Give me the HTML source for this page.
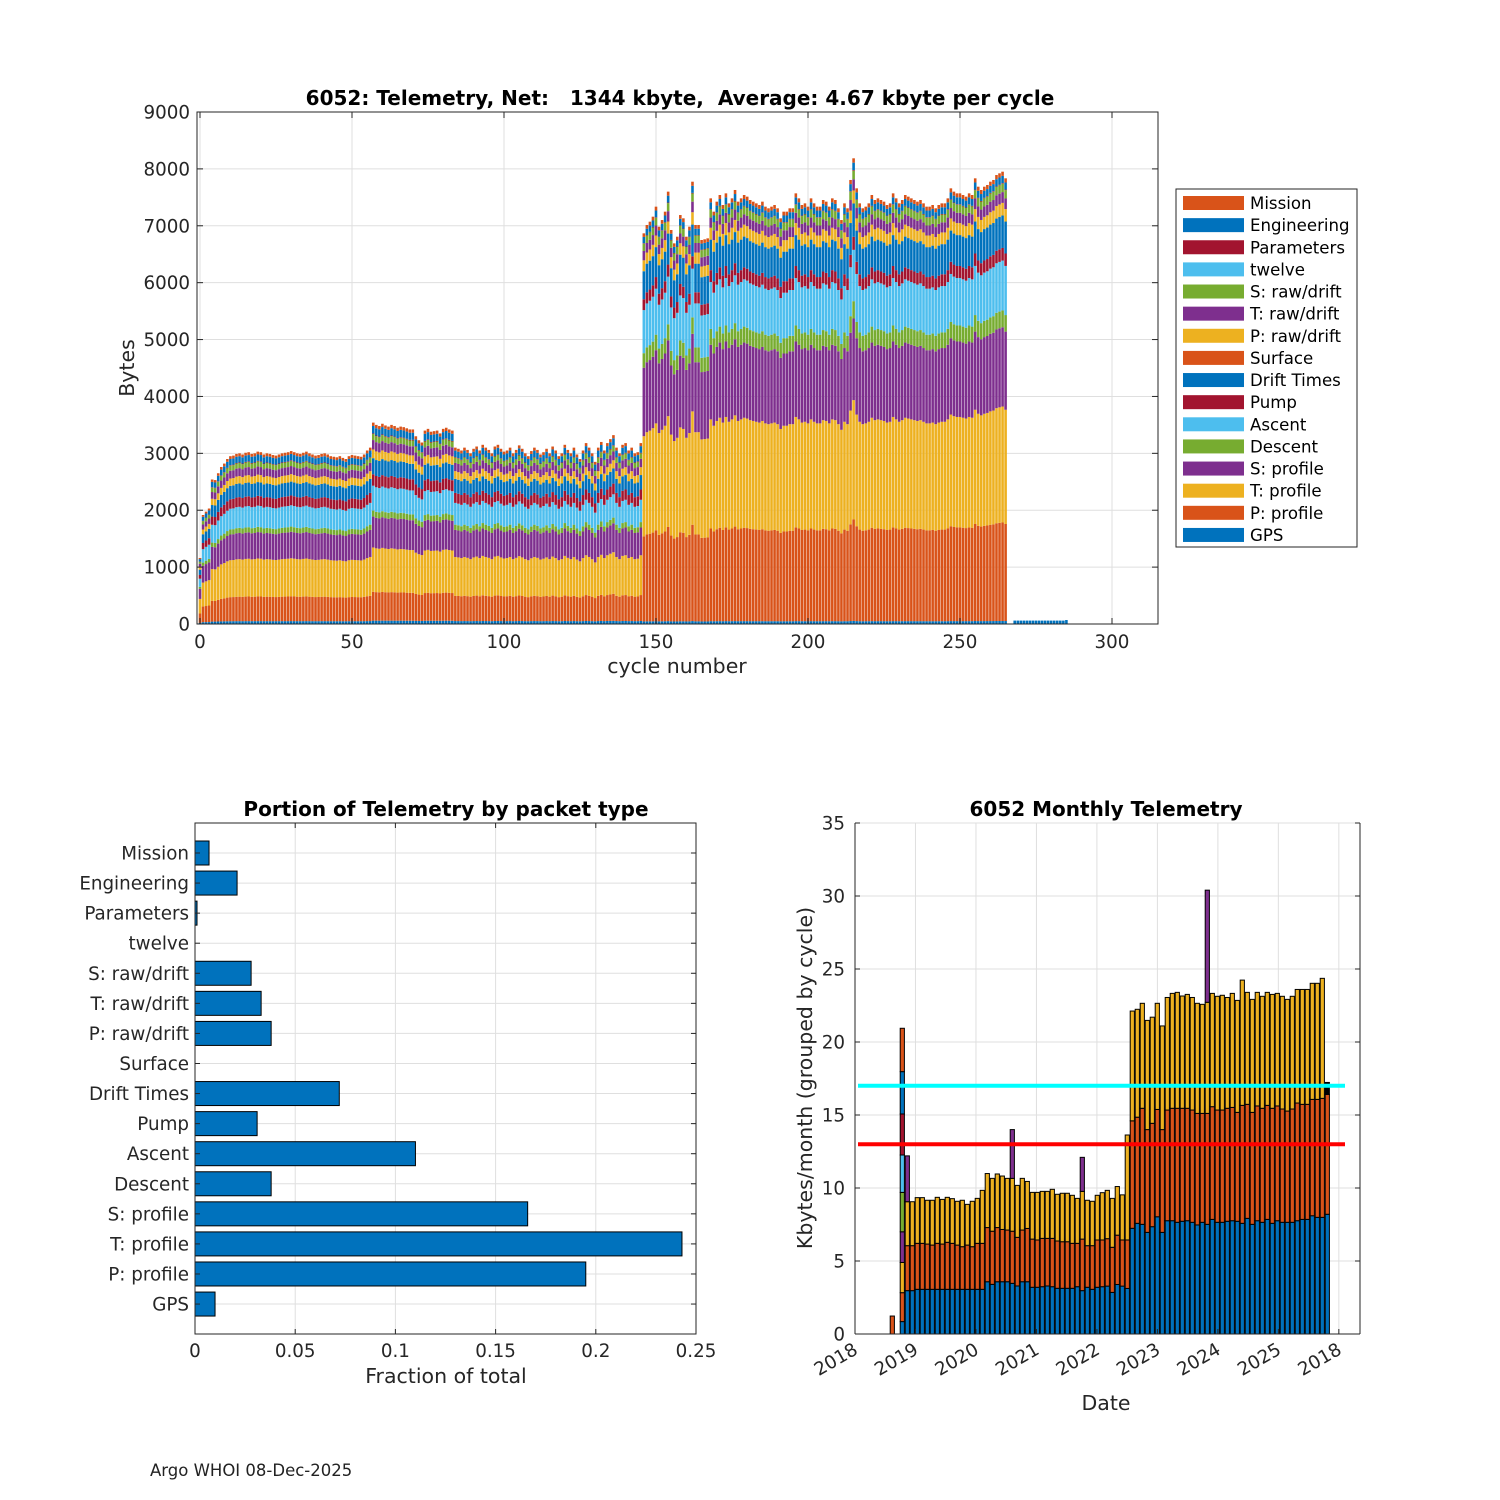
<!DOCTYPE html>
<html><head><meta charset="utf-8">
<style>
html,body{margin:0;padding:0;background:#fff;}
svg{display:block;font-family:"DejaVu Sans","Liberation Sans",sans-serif;}
</style></head>
<body>
<svg id="fig" width="1500" height="1500" viewBox="0 0 1500 1500" xmlns="http://www.w3.org/2000/svg">
<rect width="1500" height="1500" fill="#fff"/>
<g id="top"></g>
<g id="bl"></g>
<g id="br"></g>
<text x="150" y="1476" font-size="16.5" fill="#222">Argo WHOI 08-Dec-2025</text>
</svg>
<script>
// ===== Top chart data =====
const packetNames = ["GPS","P: profile","T: profile","S: profile","Descent","Ascent","Pump","Drift Times","Surface","P: raw/drift","T: raw/drift","S: raw/drift","twelve","Parameters","Engineering","Mission"];
const compEarly = [50,430,660,460,90,370,170,240,0,130,140,90,0,10,110,50];
const compLate = [50,1640,1930,1320,280,830,210,540,0,210,180,140,0,10,120,70];
const totalsEarly = [1160,1916,1975,2030,2540,2530,2650,2760,2820,2900,2950,2960,2990,3000,2980,3010,3020,2990,3000,3030,3020,2980,3000,2990,2970,2960,2980,3000,3010,3020,3040,3020,3000,2990,3010,3030,3000,2980,2960,2970,2990,3000,2980,2950,2940,2930,2950,2920,2900,2950,2970,2960,2950,2940,2980,3050,3100,3540,3500,3480,3520,3490,3470,3500,3480,3450,3470,3460,3440,3420,3420,3300,3230,3190,3400,3430,3380,3390,3400,3350,3430,3450,3420,3400,3100,3080,3050,3100,3060,3000,3080,3120,3050,3150,3100,3060,3000,3120,3150,3080,3030,3050,3100,3000,3060,3140,3080,3000,2950,3040,3100,3060,2980,3020,3080,3000,3120,3050,2950,3000,3150,3060,3000,3100,2980,2900,3050,3180,3100,3000,2850,3100,3200,3050,3180,3250,3320,3100,3000,3150,3180,3050,3100,3000,3020,3180];
const totalsLate = [6867,7014,7072,7160,7336,6984,7101,7248,7600,6926,6691,6808,7189,7131,6808,6984,7775,7014,7014,6750,6762,6779,7482,7248,7424,7541,7365,7570,7394,7482,7629,7424,7482,7541,7512,7453,7424,7394,7365,7424,7336,7307,7336,7365,7307,7131,7248,7248,7307,7307,7570,7482,7365,7394,7336,7482,7394,7336,7336,7453,7424,7336,7482,7453,7307,7101,7394,7307,7805,8186,7658,7394,7307,7336,7394,7541,7453,7482,7453,7424,7365,7394,7570,7482,7394,7453,7541,7512,7482,7453,7424,7453,7394,7336,7336,7365,7307,7365,7394,7394,7482,7658,7600,7570,7570,7541,7512,7570,7541,7834,7687,7629,7687,7717,7775,7805,7892,7922,7951,7834];
const trailCycles = [268,269,270,271,272,273,274,275,276,277,278,279,280,281,282,283,284,285];
const trailVals = [60,60,60,60,60,60,60,60,60,60,60,60,60,60,60,60,60,70];
const yTicksTop = [0,1000,2000,3000,4000,5000,6000,7000,8000,9000];
const xTicksTop = [0,50,100,150,200,250,300];

// ===== Bottom-left data =====
const fracNames = ["Mission","Engineering","Parameters","twelve","S: raw/drift","T: raw/drift","P: raw/drift","Surface","Drift Times","Pump","Ascent","Descent","S: profile","T: profile","P: profile","GPS"];
const fracVals = [0.007,0.021,0.001,0,0.028,0.033,0.038,0,0.072,0.031,0.110,0.038,0.166,0.243,0.195,0.010];
const xTicksFrac = [0,0.05,0.1,0.15,0.2,0.25];
const xTickFracLabels = ["0","0.05","0.1","0.15","0.2","0.25"];

// ===== Bottom-right data =====
const monthIdx = [10,11,12,13,14,15,16,17,18,19,20,21,22,23,24,25,26,27,28,29,30,31,32,33,34,35,36,37,38,39,40,41,42,43,44,45,46,47,48,49,50,51,52,53,54,55,56,57,58,59,60,61,62,63,64,65,66,67,68,69,70,71,72,73,74,75,76,77,78,79,80,81,82,83,84,85,86,87,88,89,90,91,92,93];
const blueTop = [2.97,2.97,3.06,3.06,3.06,3.06,3.06,3.06,3.06,3.06,3.06,3.06,3.06,3.06,3.06,3.06,3.58,3.40,3.58,3.58,3.58,3.47,3.29,3.58,3.58,3.20,3.20,3.24,3.29,3.24,3.13,3.13,3.13,3.13,3.24,2.97,3.20,3.06,3.20,3.24,3.28,2.85,3.39,3.28,3.12,7.24,7.58,7.51,6.96,7.35,8.03,6.96,7.76,7.76,7.65,7.72,7.76,7.65,7.47,7.65,7.51,7.85,7.65,7.65,7.72,7.76,7.72,7.58,7.92,7.51,7.76,7.65,7.85,7.58,7.76,7.65,7.65,7.65,7.76,7.85,7.85,8.10,7.99,7.99];
const orangeTop = [6.05,6.05,6.21,6.21,6.16,6.09,6.21,6.16,6.28,6.21,6.09,5.98,6.09,5.98,6.21,6.21,7.29,7.04,7.29,7.16,7.12,7.04,6.62,7.12,7.23,6.50,6.44,6.55,6.55,6.55,6.37,6.32,6.32,6.21,6.21,6.50,6.05,6.05,6.44,6.44,6.53,5.94,6.77,6.44,6.44,14.6,14.85,15.46,14.0,14.43,15.38,14.0,15.34,15.46,15.46,15.46,15.46,15.34,15.11,15.11,15.11,15.57,15.34,15.34,15.46,15.52,15.18,15.66,15.73,15.18,15.62,15.46,15.66,15.46,15.62,15.41,15.27,15.41,15.82,15.73,15.73,16.07,16.07,16.14];
const yellowTop = [9.06,9.06,9.34,9.34,9.16,9.16,9.36,9.22,9.36,9.27,9.09,9.16,8.88,9.09,9.29,9.84,10.99,10.66,10.96,10.82,10.66,10.66,10.18,10.66,10.45,9.70,9.70,9.77,9.77,9.91,9.57,9.64,9.64,9.50,9.29,9.77,9.16,9.09,9.50,9.68,9.84,9.29,10.1,9.53,13.63,22.12,22.24,22.65,21.48,21.7,22.65,21.1,23.05,23.33,23.4,23.15,23.26,23.05,22.65,22.58,22.72,23.33,23.13,23.2,23.05,23.33,22.85,24.24,23.4,22.92,23.4,23.13,23.4,23.26,23.33,23.13,22.92,23.13,23.6,23.6,23.6,24.02,24.02,24.36];
const purpleMonths = [10,31,45,70];
const purpleTop = [12.2,14.0,12.1,30.4];
const firstMonthSegTops = [0.85,2.83,4.9,7.0,9.7,12.26,15.07,17.97,20.94];
const lastMonthSegTops = [8.2,16.41,17.23];
const earlyMonthOrange = 1.23;
const refLevels = [17,13];
const yTicksMon = [0,5,10,15,20,25,30,35];
const yearTickMonths = [0,12,24,36,48,60,72,84,96];
const yearLabels = ["2018","2019","2020","2021","2022","2023","2024","2025","2018"];

const C = {orange:"#D95319",blue:"#0072BD",red:"#A2142F",lblue:"#4DBEEE",green:"#77AC30",purple:"#7E2F8E",yellow:"#EDB120"};
const compColors = [C.blue,C.orange,C.yellow,C.purple,C.green,C.lblue,C.red,C.blue,C.orange,C.yellow,C.purple,C.green,C.lblue,C.red,C.blue,C.orange];
const NS = "http://www.w3.org/2000/svg";
const FT = 18.3, FL = 20.5, FTI = 20;
function mk(parent, tag, attrs, text){
  const e = document.createElementNS(NS, tag);
  for (const k in attrs) e.setAttribute(k, attrs[k]);
  if (text !== undefined) e.textContent = text;
  parent.appendChild(e); return e;
}

// ===== Top chart =====
(function(){
  const g = document.getElementById('top');
  const L=197, R=1158, T=112, B=624;
  const xs = v => 200 + v*3.04;
  const ys = v => B - v*(B-T)/9000;
  for (const t of xTicksTop){ const l=mk(g,'line',{x1:xs(t),x2:xs(t),y1:T,y2:B,stroke:'#dfdfdf','stroke-width':1});
      }
  for (const t of yTicksTop){ const l=mk(g,'line',{x1:L,x2:R,y1:ys(t),y2:ys(t),stroke:'#dfdfdf','stroke-width':1});
      }
  const sumE = compEarly.reduce((a,b)=>a+b,0), sumL = compLate.reduce((a,b)=>a+b,0);
  const all = totalsEarly.concat(totalsLate);
  all.forEach((tot,c)=>{
    const comp = c < totalsEarly.length ? compEarly : compLate;
    const s = c < totalsEarly.length ? sumE : sumL;
    let base = 0;
    const w = 0.85*3.04;
    comp.forEach((v,i)=>{
      if (!v) return;
      const h = tot*v/s;
      const r = mk(g,'rect',{x:(xs(c)-w/2).toFixed(2),y:ys(base+h).toFixed(2),width:w.toFixed(2),height:(ys(base)-ys(base+h)).toFixed(2),fill:compColors[i]});
      
      
      base += h;
    });
  });
  trailCycles.forEach((c,i)=>{
    const w=0.85*3.04;
    const r=mk(g,'rect',{x:xs(c)-w/2,y:ys(trailVals[i]),width:w,height:ys(0)-ys(trailVals[i]),fill:C.blue});
    
    
  });
  mk(g,'rect',{x:L,y:T,width:R-L,height:B-T,fill:'none',stroke:'#262626','stroke-width':1});
  for (const t of xTicksTop){
    mk(g,'line',{x1:xs(t),x2:xs(t),y1:B,y2:B-6,stroke:'#262626'});
    mk(g,'line',{x1:xs(t),x2:xs(t),y1:T,y2:T+6,stroke:'#262626'});
    const tx=mk(g,'text',{x:xs(t),y:648,'font-size':FT,'text-anchor':'middle',fill:'#262626'},String(t));
     
  }
  for (const t of yTicksTop){
    mk(g,'line',{x1:L,x2:L+6,y1:ys(t),y2:ys(t),stroke:'#262626'});
    mk(g,'line',{x1:R,x2:R-6,y1:ys(t),y2:ys(t),stroke:'#262626'});
    const tx=mk(g,'text',{x:190,y:ys(t)+6.5,'font-size':FT,'text-anchor':'end',fill:'#262626'},String(t));
     
  }
  const ti=mk(g,'text',{x:680,y:105,'font-size':FTI,'font-weight':'bold','text-anchor':'middle',fill:'#000','xml:space':'preserve',style:'white-space:pre'},'6052: Telemetry, Net:   1344 kbyte,  Average: 4.67 kbyte per cycle');
   
  const xl=mk(g,'text',{x:677,y:673,'font-size':FL,'text-anchor':'middle',fill:'#262626'},'cycle number');
   
  const yl=mk(g,'text',{x:0,y:0,'font-size':FL,'text-anchor':'middle',fill:'#262626',transform:'translate(134,368) rotate(-90)'},'Bytes');
   
  const lg=mk(g,'g',{});
   
  mk(lg,'rect',{x:1176,y:189,width:181,height:358,fill:'#fff',stroke:'#262626','stroke-width':1});
  for (let k=0;k<16;k++){
    const i = 15-k;
    const yc = 203 + k*22.13;
    const e=mk(lg,'g',{});
     
    mk(e,'rect',{x:1183,y:yc-7,width:61,height:14,fill:compColors[i]});
    mk(e,'text',{x:1250,y:yc+6,'font-size':16.6,fill:'#000'},packetNames[i]);
  }
})();

// ===== Bottom-left chart =====
(function(){
  const g=document.getElementById('bl');
  const L=195,R=696,T=823,B=1334;
  const xs=v=>L+v*(R-L)/0.25;
  const yc=i=>853+i*30.07;
  for (const t of xTicksFrac){ const l=mk(g,'line',{x1:xs(t),x2:xs(t),y1:T,y2:B,stroke:'#dfdfdf'});
      }
  fracNames.forEach((n,i)=>{ const l=mk(g,'line',{x1:L,x2:R,y1:yc(i),y2:yc(i),stroke:'#dfdfdf'});
      });
  fracVals.forEach((v,i)=>{
    if (v>0){
      const r=mk(g,'rect',{x:L,y:yc(i)-12,width:xs(v)-L,height:24,fill:C.blue,stroke:'#000','stroke-width':1});
      
      
    }
    const tx=mk(g,'text',{x:189,y:yc(i)+6.5,'font-size':FT,'text-anchor':'end',fill:'#262626'},fracNames[i]);
     
    mk(g,'line',{x1:L,x2:L+5,y1:yc(i),y2:yc(i),stroke:'#262626'});
    mk(g,'line',{x1:R,x2:R-5,y1:yc(i),y2:yc(i),stroke:'#262626'});
  });
  mk(g,'rect',{x:L,y:T,width:R-L,height:B-T,fill:'none',stroke:'#262626'});
  xTicksFrac.forEach((t,i)=>{
    mk(g,'line',{x1:xs(t),x2:xs(t),y1:B,y2:B-5,stroke:'#262626'});
    mk(g,'line',{x1:xs(t),x2:xs(t),y1:T,y2:T+5,stroke:'#262626'});
    const tx=mk(g,'text',{x:xs(t),y:1357,'font-size':FT,'text-anchor':'middle',fill:'#262626'},xTickFracLabels[i]);
     
  });
  const ti=mk(g,'text',{x:446,y:816,'font-size':FTI,'font-weight':'bold','text-anchor':'middle',fill:'#000'},'Portion of Telemetry by packet type');
   
  const xl=mk(g,'text',{x:446,y:1383,'font-size':FL,'text-anchor':'middle',fill:'#262626'},'Fraction of total');
   
})();

// ===== Bottom-right chart =====
(function(){
  const g=document.getElementById('br');
  const L=855,R=1360,T=823,B=1334;
  const xt=m=>L+m*5.04;
  const xb=m=>L+(m+0.46)*5.0;
  const ys=v=>B-v*(B-T)/35;
  for (const m of yearTickMonths){ const l=mk(g,'line',{x1:xt(m),x2:xt(m),y1:T,y2:B,stroke:'#dfdfdf'});
      }
  for (const t of yTicksMon){ const l=mk(g,'line',{x1:L,x2:R,y1:ys(t),y2:ys(t),stroke:'#dfdfdf'});
      }
  const w=4.2;
  function seg(m,lo,hi,col,name){
    const r=mk(g,'rect',{x:(xb(m)-w/2).toFixed(2),y:ys(hi).toFixed(2),width:w,height:(ys(lo)-ys(hi)).toFixed(2),fill:col,stroke:'#000','stroke-width':1});
    
    
  }
  seg(7,0,earlyMonthOrange,C.orange,'bar-month-7');
  const firstCols=[C.blue,C.orange,C.yellow,C.purple,C.green,C.lblue,C.red,C.blue,C.orange];
  let prev=0;
  firstMonthSegTops.forEach((t,i)=>{ seg(9,prev,t,firstCols[i],'bar-month-9-seg'); prev=t; });
  monthIdx.forEach((m,i)=>{
    seg(m,0,blueTop[i],C.blue,'bar-month-blue');
    seg(m,blueTop[i],orangeTop[i],C.orange,'bar-month-orange');
    seg(m,orangeTop[i],yellowTop[i],C.yellow,'bar-month-yellow');
    const p=purpleMonths.indexOf(m);
    if (p>=0) seg(m,yellowTop[i],purpleTop[p],C.purple,'bar-month-purple');
  });
  seg(94,0,lastMonthSegTops[0],C.blue,'bar-month-94-blue');
  seg(94,lastMonthSegTops[0],lastMonthSegTops[1],C.orange,'bar-month-94-orange');
  seg(94,lastMonthSegTops[1],lastMonthSegTops[2],'#000','bar-month-94-black');
  const lc=['#00FFFF','#FF0000'];
  refLevels.forEach((v,i)=>{
    const l=mk(g,'line',{x1:858,x2:1345,y1:ys(v),y2:ys(v),stroke:lc[i],'stroke-width':4});
    
    
  });
  mk(g,'line',{x1:L,x2:R,y1:B,y2:B,stroke:'#262626'});
  mk(g,'line',{x1:L,x2:L,y1:T,y2:B,stroke:'#262626'});
  mk(g,'line',{x1:R,x2:R,y1:T,y2:B,stroke:'#262626'});
  for (const t of yTicksMon){
    mk(g,'line',{x1:L,x2:L+5,y1:ys(t),y2:ys(t),stroke:'#262626'});
    mk(g,'line',{x1:R,x2:R-5,y1:ys(t),y2:ys(t),stroke:'#262626'});
    const tx=mk(g,'text',{x:845,y:ys(t)+6.5,'font-size':FT,'text-anchor':'end',fill:'#262626'},String(t));
     
  }
  yearTickMonths.forEach((m,i)=>{
    mk(g,'line',{x1:xt(m),x2:xt(m),y1:B,y2:B-5,stroke:'#262626'});
    const tx=mk(g,'text',{x:0,y:0,'font-size':FT,'text-anchor':'end',fill:'#262626',transform:'translate('+(xt(m)+4)+',1353) rotate(-30)'},yearLabels[i]);
     
  });
  const ti=mk(g,'text',{x:1106,y:816,'font-size':FTI,'font-weight':'bold','text-anchor':'middle',fill:'#000'},'6052 Monthly Telemetry');
   
  const xl=mk(g,'text',{x:1106,y:1410,'font-size':FL,'text-anchor':'middle',fill:'#262626'},'Date');
   
  const yl=mk(g,'text',{x:0,y:0,'font-size':FL,'text-anchor':'middle',fill:'#262626',transform:'translate(812,1078) rotate(-90)'},'Kbytes/month (grouped by cycle)');
   
})();
</script>
</body></html>
